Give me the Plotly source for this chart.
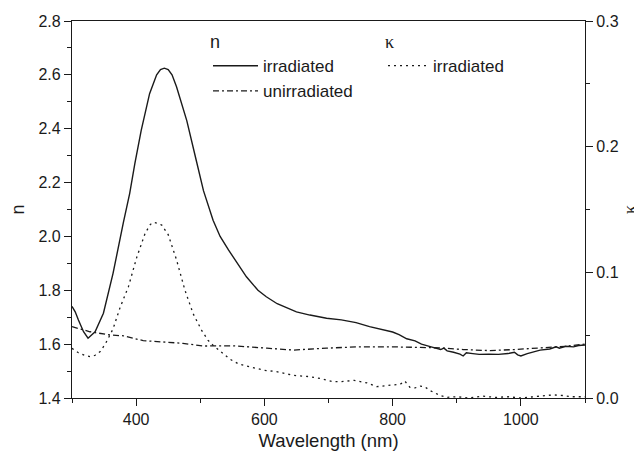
import plotly.graph_objects as go

# n, irradiated film
wl_irr = [300, 305, 310, 318, 325, 336, 349, 364, 380, 390, 398, 408, 421, 432, 438, 444, 450, 456,
          463, 470, 479, 494, 505, 520, 531, 544, 551, 572, 590, 603, 620, 634, 650, 671, 697, 720,
          743, 764, 780, 800, 810, 822, 835, 845, 860, 875, 880, 885, 895, 905, 910, 915, 925, 935,
          950, 965, 980, 990, 995, 1000, 1010, 1030, 1045, 1055, 1060, 1070, 1082, 1090, 1100]
n_irr = [1.74, 1.72, 1.69, 1.646, 1.622, 1.646, 1.715, 1.863, 2.05, 2.16, 2.27, 2.395, 2.53, 2.60,
         2.62, 2.625, 2.62, 2.60, 2.556, 2.50, 2.43, 2.28, 2.17, 2.06, 2.00, 1.95, 1.925, 1.85, 1.80,
         1.776, 1.75, 1.735, 1.72, 1.708, 1.696, 1.69, 1.68, 1.665, 1.655, 1.645, 1.635, 1.62, 1.612,
         1.60, 1.59, 1.58, 1.585, 1.575, 1.57, 1.563, 1.556, 1.568, 1.565, 1.562, 1.563, 1.562, 1.565,
         1.57, 1.56, 1.556, 1.565, 1.578, 1.582, 1.59, 1.585, 1.592, 1.59, 1.595, 1.597]

# n, unirradiated film
wl_unirr = [300, 328, 359, 380, 411, 442, 473, 504, 541, 551, 604, 645, 697, 744, 800, 850, 874,
            910, 952, 990, 1030, 1070, 1100]
n_unirr = [1.665, 1.646, 1.634, 1.631, 1.613, 1.609, 1.603, 1.593, 1.593, 1.594, 1.585, 1.578,
           1.585, 1.59, 1.59, 1.588, 1.586, 1.58, 1.576, 1.58, 1.586, 1.592, 1.60]

# kappa, irradiated film (right axis)
wl_k = [300, 310, 320, 328, 336, 344, 352, 364, 375, 388, 401, 414, 422, 427, 434, 440, 450, 463,
        476, 489, 502, 512, 520, 546, 560, 577, 600, 619, 645, 671, 688, 707, 718, 740, 760, 775,
        795, 812, 819, 827, 835, 843, 850, 858, 866, 874, 885, 900, 920, 940, 960, 980, 1000, 1020,
        1035, 1050, 1065, 1080, 1100]
k_irr = [0.0395, 0.036, 0.034, 0.033, 0.034, 0.037, 0.043, 0.055, 0.072, 0.0886, 0.112, 0.131,
         0.138, 0.1398, 0.139, 0.1376, 0.13, 0.11, 0.086, 0.067, 0.054, 0.046, 0.042, 0.031, 0.027,
         0.0247, 0.022, 0.021, 0.018, 0.017, 0.0154, 0.013, 0.013, 0.014, 0.012, 0.009, 0.01, 0.011,
         0.0135, 0.0085, 0.008, 0.0095, 0.009, 0.006, 0.004, 0.002, 0.0005, 0.001, 0.0, 0.0015,
         0.0005, 0.001, 0.0, 0.001, 0.002, 0.0025, 0.002, 0.001, 0.001]

ink = "#1a1a1a"
font = "Liberation Sans, Arial, sans-serif"
serif = "Liberation Serif, Times New Roman, serif"

fig = go.Figure()
fig.add_trace(go.Scatter(x=wl_irr, y=n_irr, mode="lines", name="irradiated",
                         line=dict(color=ink, width=1.4), legend="legend"))
fig.add_trace(go.Scatter(x=wl_unirr, y=n_unirr, mode="lines", name="unirradiated",
                         line=dict(color=ink, width=1.3, dash="6px,3px,2px,3px"), legend="legend"))
fig.add_trace(go.Scatter(x=wl_k, y=k_irr, mode="lines", name="irradiated", yaxis="y2",
                         line=dict(color=ink, width=1.3, dash="2px,4px"), legend="legend2"))

axis_common = dict(showgrid=False, zeroline=False, showline=True, linecolor=ink, linewidth=1.2,
                   ticks="outside", ticklen=7, tickcolor=ink, tickwidth=1.2, automargin=False,
                   tickfont=dict(size=16, color=ink))

fig.update_layout(
    width=642, height=457,
    margin=dict(l=64, r=65, t=13, b=67),
    plot_bgcolor="white", paper_bgcolor="white",
    font=dict(family=font, color=ink, size=16),
    xaxis=dict(range=[300, 1100], dtick=200, mirror=True,
               minor=dict(dtick=100, ticks="outside", ticklen=4, tickcolor=ink),
               title=dict(text="Wavelength (nm)", font=dict(size=18.5), standoff=6),
               **axis_common),
    yaxis=dict(range=[1.4, 2.8], dtick=0.2, tickformat=".1f",
               minor=dict(dtick=0.1, ticks="outside", ticklen=4, tickcolor=ink),
               title=dict(text="n", font=dict(size=18), standoff=12),
               **axis_common),
    yaxis2=dict(range=[0, 0.3], dtick=0.1, tickformat=".1f", overlaying="y", side="right",
                minor=dict(dtick=0.05, ticks="outside", ticklen=4, tickcolor=ink),
                title=dict(text="κ", font=dict(size=18, family=serif), standoff=5),
                **axis_common),
    legend=dict(x=(200 - 64) / 513, y=0.99, xanchor="left", yanchor="top",
                bgcolor="rgba(0,0,0,0)", itemwidth=45,
                title=dict(text="n", side="top", font=dict(size=18)),
                font=dict(size=17), tracegroupgap=0),
    legend2=dict(x=(375 - 64) / 513, y=0.99, xanchor="left", yanchor="top",
                 bgcolor="rgba(0,0,0,0)", itemwidth=40,
                 title=dict(text="κ", side="top", font=dict(size=18, family=serif)),
                 font=dict(size=17)),
)

fig.write_html("out.html")
